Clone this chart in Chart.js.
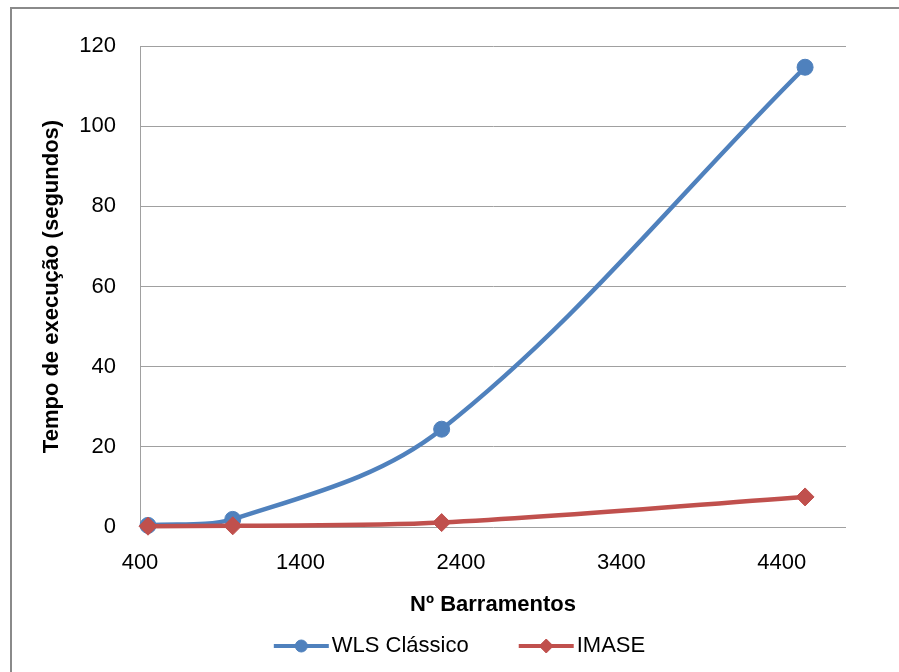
<!DOCTYPE html>
<html>
<head>
<meta charset="utf-8">
<script src="https://cdn.jsdelivr.net/npm/chart.js@4/dist/chart.umd.min.js"></script>
<style>
  html, body { margin: 0; padding: 0; background: #ffffff; }
  #wrap { position: relative; width: 899px; height: 672px; }
</style>
</head>
<body>
<div id="wrap"><canvas id="c" width="899" height="672"></canvas></div>
<script>
// Número de barramentos de cada sistema testado
const barramentos = [450, 978, 2280, 4545];
// Tempo de execução (s)
const tempoWLS = [0.4, 1.9, 24.4, 114.7];
const tempoIMASE = [0.2, 0.3, 1.1, 7.5];
// Marcas dos eixos
const xTicks = [400, 1400, 2400, 3400, 4400];
const yTicks = [0, 20, 40, 60, 80, 100, 120];

const BLUE = '#4F81BD';
const RED = '#C0504D';
const FONT = '"Liberation Sans", Arial, sans-serif';

const toPoints = (xs, ys) => xs.map((x, i) => ({ x: x, y: ys[i] }));

// Fundo branco e moldura da área do gráfico
const frame = {
  id: 'frame',
  beforeDraw(chart) {
    const ctx = chart.ctx;
    ctx.save();
    ctx.fillStyle = '#ffffff';
    ctx.fillRect(0, 0, chart.width, chart.height);
    ctx.strokeStyle = '#8a8a8a';
    ctx.lineWidth = 2;
    ctx.strokeRect(11, 8, chart.width + 20, chart.height + 20);
    ctx.restore();
  }
};

// Legenda inferior: linha com o marcador de cada série
const lineLegend = {
  id: 'lineLegend',
  afterDraw(chart) {
    const ctx = chart.ctx;
    ctx.save();
    ctx.font = '22px ' + FONT;
    const lineLen = 55, gap = 3, spacing = 50;
    const items = chart.data.datasets.map(ds => ({
      ds, w: lineLen + gap + ctx.measureText(ds.label).width
    }));
    const total = items.reduce((s, it) => s + it.w, 0) + spacing * (items.length - 1);
    let x = (chart.width + 20) / 2 - total / 2;
    const y = 646;
    items.forEach(it => {
      const ds = it.ds;
      ctx.strokeStyle = ds.borderColor;
      ctx.lineWidth = 4;
      ctx.beginPath();
      ctx.moveTo(x, y);
      ctx.lineTo(x + lineLen, y);
      ctx.stroke();
      ctx.fillStyle = ds.backgroundColor;
      ctx.strokeStyle = ds.borderColor;
      ctx.lineWidth = 1;
      Chart.helpers.drawPoint(ctx, {
        pointStyle: ds.pointStyle,
        radius: ds.pointStyle === 'rectRot' ? 7 : 6,
        borderWidth: 1,
        rotation: 0
      }, x + lineLen / 2, y);
      ctx.fillStyle = '#000000';
      ctx.textBaseline = 'middle';
      ctx.textAlign = 'left';
      ctx.fillText(ds.label, x + lineLen + gap, y);
      x += it.w + spacing;
    });
    ctx.restore();
  }
};

new Chart(document.getElementById('c'), {
  type: 'scatter',
  data: {
    datasets: [
      {
        label: 'WLS Clássico',
        data: toPoints(barramentos, tempoWLS),
        order: 1,
        clip: false,
        showLine: true,
        borderColor: BLUE,
        backgroundColor: BLUE,
        borderWidth: 4.5,
        pointStyle: 'circle',
        pointRadius: 8,
        pointHoverRadius: 8,
        pointBorderWidth: 1,
        tension: 0.35
      },
      {
        label: 'IMASE',
        data: toPoints(barramentos, tempoIMASE),
        order: 0,
        clip: false,
        showLine: true,
        borderColor: RED,
        backgroundColor: RED,
        borderWidth: 4.5,
        pointStyle: 'rectRot',
        pointRadius: 9,
        pointHoverRadius: 9,
        pointBorderWidth: 1,
        tension: 0.35
      }
    ]
  },
  options: {
    responsive: false,
    animation: false,
    events: [],
    layout: { padding: { left: 20, right: 53, top: 46, bottom: 49 } },
    plugins: {
      legend: { display: false },
      tooltip: { enabled: false }
    },
    scales: {
      x: {
        type: 'linear',
        min: 400,
        max: 4800,
        afterBuildTicks(scale) { scale.ticks = xTicks.map(v => ({ value: v })); },
        afterFit(scale) { scale.height = 96; },
        grid: { display: false, drawTicks: false },
        border: { display: false },
        ticks: {
          padding: 23,
          maxRotation: 0,
          autoSkip: false,
          color: '#000000',
          font: { family: FONT, size: 22 },
          callback: v => String(v)
        },
        title: {
          display: true,
          text: 'Nº Barramentos',
          color: '#000000',
          font: { family: FONT, size: 22, weight: 'bold' },
          padding: { top: 0, bottom: 5 }
        }
      },
      y: {
        min: 0,
        max: 120,
        afterBuildTicks(scale) { scale.ticks = yTicks.map(v => ({ value: v })); },
        afterFit(scale) { scale.width = 120; },
        grid: { color: '#a0a0a0', lineWidth: 1, drawTicks: false },
        border: { display: true, color: '#a0a0a0', width: 1 },
        ticks: {
          padding: 24,
          color: '#000000',
          font: { family: FONT, size: 22 }
        },
        title: {
          display: true,
          text: 'Tempo de execução (segundos)',
          color: '#000000',
          font: { family: FONT, size: 22, weight: 'bold' },
          padding: { top: 19, bottom: 0 }
        }
      }
    }
  },
  plugins: [frame, lineLegend]
});
</script>
</body>
</html>
